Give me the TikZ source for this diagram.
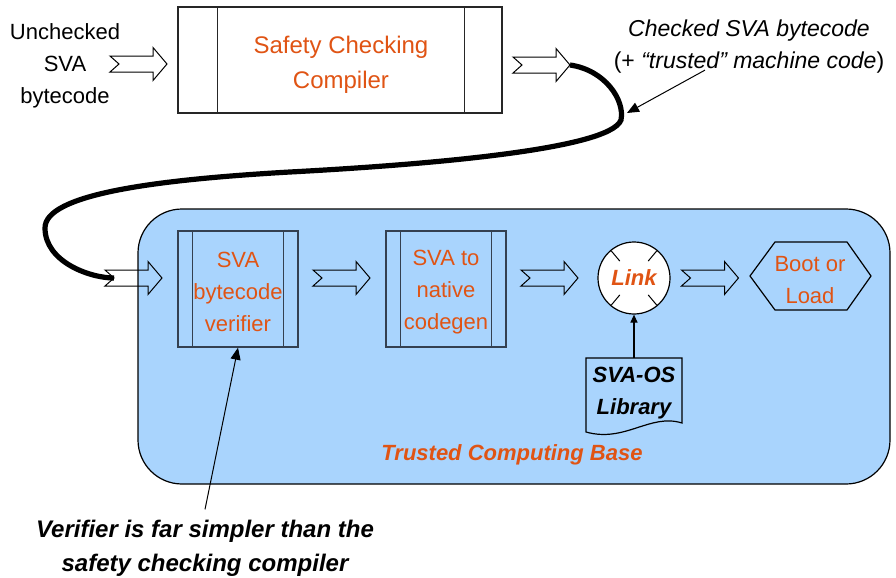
\documentclass[tikz,border=0pt]{standalone}
\usepackage{fontspec}
\setmainfont{Liberation Sans}
\usetikzlibrary{arrows.meta}
\definecolor{tcbblue}{RGB}{169,212,253}
\definecolor{svaorange}{RGB}{224,84,20}
\definecolor{boxline}{RGB}{52,64,80}
\tikzset{
  txt/.style={align=center, inner sep=0pt, font=\fontsize{11}{16}\selectfont},
  stage/.style={txt, draw=boxline, line width=0.7pt, minimum width=60pt, minimum height=58pt, text=svaorange},
  arrowline/.style={draw=black, line width=0.5pt},
  notearrow/.style={line width=0.5pt, -{Triangle[length=6pt,width=5pt]}},
  fatarrow/.pic={
    \draw[arrowline] (-28.5,-8) -- (14.5,-8) -- (14.5,-16.5) -- (28.5,0) -- (14.5,16.5) -- (14.5,8) -- (-28.5,8) -- (-19.5,0) -- cycle;
    \coordinate (-tip) at (28.5,0);
    \coordinate (-tail) at (-19.5,0);
  }
}
\begin{document}
\begin{tikzpicture}[x=0.5pt,y=-0.5pt]
      \useasboundingbox (0,0) rectangle (896,578);
      % trusted computing base
      \filldraw[fill=tcbblue, draw=black, line width=0.6pt, rounded corners=22pt] (138,209) rectangle (890,484);
      \node[txt, font=\bfseries\itshape\fontsize{11}{16}\selectfont, text=svaorange] (tcb) at (512,455) {Trusted Computing Base};
      % top row
      \node[txt] (src) at (65,66) {Unchecked\\SVA\\bytecode};
      \node[stage, draw=black!85, fill=white, minimum width=162pt, minimum height=53pt, font=\fontsize{12}{17.5}\selectfont] (comp) at (340,60) {};
      \node[txt, font=\fontsize{12}{17.5}\selectfont, text=svaorange] (comptext) at (341,65) {Safety Checking\\Compiler};
      \draw[black!85, line width=0.7pt] ([xshift=20pt]comp.north west) -- ([xshift=20pt]comp.south west);
      \draw[black!85, line width=0.7pt] ([xshift=-19pt]comp.north east) -- ([xshift=-19pt]comp.south east);
      \node[txt, font=\fontsize{11.5}{16}\selectfont] (chk) at (749,47) {\textit{Checked SVA bytecode}\\(+ \textit{“trusted” machine code})};
      \pic (a1) at (138.5,64) {fatarrow};
      \pic (a2) at (541.5,65) {fatarrow};
      % stages
      \node[stage] (ver) at (238,289) {};
      \node[txt, text=svaorange] (vertext) at (238,292) {SVA\\bytecode\\verifier};
      \node[stage] (cg) at (446,289) {};
      \node[txt, text=svaorange] (cgtext) at (446,292) {SVA to\\native\\codegen};
      \foreach \n in {ver,cg} {
        \draw[boxline, line width=0.7pt] ([xshift=7.5pt]\n.north west) -- ([xshift=7.5pt]\n.south west);
        \draw[boxline, line width=0.7pt] ([xshift=-7.5pt]\n.north east) -- ([xshift=-7.5pt]\n.south east);
      }
      \node[circle, draw=black, line width=0.6pt, fill=white, minimum size=36pt, inner sep=0pt, text=svaorange, font=\fontsize{11}{13}\selectfont\bfseries\itshape] (link) at (634,278) {Link};
      \foreach \a in {50,130,230,310}
        \draw[line width=0.5pt] (link.center) ++(\a:22) -- ++(\a:13.5);
      \draw[line width=0.6pt] (750,276) -- (775,242) -- (847,242) -- (871,276) -- (847,310) -- (775,310) -- cycle;
      \node[txt, text=svaorange] (boot) at (810,280) {Boot or\\Load};
      \pic (a3) at (133.5,278) {fatarrow};
      \pic (a4) at (341.5,278) {fatarrow};
      \pic (a5) at (549.5,278) {fatarrow};
      \pic (a6) at (710,278) {fatarrow};
      % library
      \draw[line width=0.6pt] (586,358) -- (682,358) -- (682,423) .. controls (650,413) and (625,443) .. (586,432) -- cycle;
      \node[txt, font=\fontsize{11}{16}\selectfont\bfseries\itshape] (lib) at (634,393) {SVA-OS\\Library};
      \coordinate (libtop) at (634,358);
      \draw[line width=0.6pt, -{Triangle[length=4pt,width=3.5pt]}] (libtop) -- (link.south);
      % thick link from compiler to verifier
      \draw[line width=2.6pt] (a2-tip) .. controls (605,70) and (625,100) .. (621,120)
        .. controls (610,150) and (420,165) .. (290,172)
        .. controls (150,180) and (45,195) .. (45,228)
        .. controls (45,262) and (90,278) .. (a3-tail);
      % notes
      \coordinate (hit) at (627,113);
      \draw[notearrow] ([xshift=-22pt,yshift=2pt]chk.south) -- (hit);
      \node[txt, font=\fontsize{12}{17}\selectfont\bfseries\itshape] (note) at (205,548) {Verifier is far simpler than the\\safety checking compiler};
      \draw[notearrow] ([yshift=5pt]note.north) -- (ver.south);
\end{tikzpicture}
\end{document}
